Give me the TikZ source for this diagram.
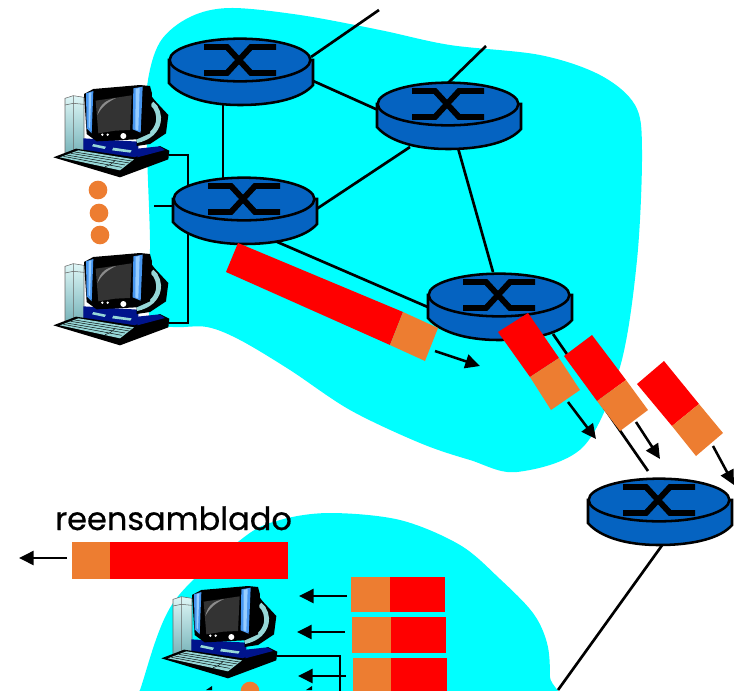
\documentclass[tikz,border=0pt]{standalone}
\usepackage{fontspec}
\setmainfont{Poppins}
\newfontfamily\labfont[FakeBold=0.6]{Poppins}
\usetikzlibrary{arrows.meta,calc,shapes.geometric}
\pgfdeclarelayer{blob}\pgfdeclarelayer{edges}
\pgfsetlayers{blob,edges,main}
\definecolor{cloud}{RGB}{0,255,255}
\definecolor{rtblue}{RGB}{5,99,193}
\definecolor{pkred}{RGB}{255,0,0}
\definecolor{pkor}{RGB}{237,125,49}
\definecolor{navy1}{RGB}{0,20,140}
\definecolor{teal1}{RGB}{150,215,215}
\definecolor{towtop}{RGB}{222,246,246}
\definecolor{towbot}{RGB}{120,180,186}
\definecolor{scr}{RGB}{51,51,51}
\definecolor{barb}{RGB}{70,150,240}
\definecolor{barl}{RGB}{150,205,255}
\tikzset{
 link/.style={line width=2pt,black},
 motion/.style={line width=1.9pt,black,-{Triangle[length=11pt,width=10.5pt]},shorten >=0pt},
 rttop/.style={ellipse,draw=black,line width=1.9pt,fill=rtblue,minimum width=105.5pt,minimum height=32pt,inner sep=0pt},
 rtbody/.style={draw=black,line width=1.9pt,fill=rtblue},
 rtx/.style={line width=4.4pt,black,line join=miter},
 odot/.style={circle,fill=pkor,minimum size=14pt,inner sep=0pt},
 pkr/.style={fill=pkred},
 pko/.style={fill=pkor}
}
\newcommand{\rtr}[3]{%
 \begin{scope}[shift={(#2,#3)}]
 \path[rtbody] (-71,0) -- (-71,23) .. controls (-60,36) and (-35,45) .. (0,45) .. controls (35,45) and (62,38) .. (73,25) -- (73,0) -- cycle;
 \node[rttop] (#1) at (0,0) {};
 \draw[rtx] (-36,-13) -- (-13,-13) -- (11,13) -- (36,13);
 \draw[rtx] (-36,13) -- (-13,13) -- (11,-13) -- (36,-13);
 \end{scope}}
% host: coordinates are in thirds of a pixel, relative to the given origin
\newcommand{\hst}[3]{%
 \begin{scope}[shift={(#2,#3)},x=0.25pt,y=-0.25pt]
 \shade[top color=towtop,bottom color=towbot,draw=black!60,line width=.4pt] (75,85) -- (100,77) -- (132,82) -- (132,250) -- (75,252) -- cycle;
 \draw[black!60,line width=.4pt] (100,78) -- (100,250) (75,105) -- (100,100) -- (132,103);
 \fill[navy1] (130,205) -- (295,215) -- (295,265) -- (130,250) -- cycle;
 \fill[black] (320,60) -- (345,92) -- (385,135) -- (378,190) -- (330,222) -- (290,228) -- (290,90) -- cycle;
 \draw[teal1,line width=3.6pt] (335,100) .. controls (368,125) and (368,195) .. (290,212);
 \fill[black] (132,72) -- (160,57) -- (300,45) -- (330,48) -- (336,70) -- (330,190) -- (290,208) -- (170,214) -- (140,192) -- cycle;
 \fill[barb] (138,70) -- (160,63) -- (155,190) -- (140,175) -- cycle;
 \fill[barl] (146,70) -- (154,67) -- (150,176) -- (146,170) -- cycle;
 \fill[barb] (280,55) -- (308,50) -- (302,188) -- (278,178) -- cycle;
 \fill[barl] (287,56) -- (299,54) -- (295,182) -- (286,178) -- cycle;
 \fill[scr] (167,92) -- (275,76) -- (270,180) -- (225,182) -- (175,190) -- cycle;
 \fill[black!45] (172,135) .. controls (180,100) and (200,90) .. (228,84) .. controls (205,95) and (185,110) .. (172,135) -- cycle;
 \fill[white] (187,194) circle[radius=4] (203,194) circle[radius=4] (250,198) circle[radius=9];
 \fill[teal1] (160,222) -- (198,230) -- (194,237) -- (156,229) -- cycle;
 \fill[teal1] (220,233) -- (275,241) -- (271,248) -- (216,241) -- cycle;
 \fill[black] (40,262) -- (108,236) -- (285,262) -- (360,228) -- (388,242) -- (385,268) -- (240,322) -- cycle;
 \fill[navy1] (292,236) -- (358,229) -- (375,240) -- (292,262) -- cycle;
 \fill[teal1] (60,262) -- (115,241) -- (282,268) -- (240,301) -- cycle;
 \draw[black,line width=.35pt] (80,255) -- (255,285) (92,250) -- (268,279) (104,246) -- (275,273) (70,259) -- (245,292) (195,290) .. controls (210,285) and (218,280) .. (225,272);
 \coordinate (#1) at (386,255);
 \end{scope}}
\newcommand{\mot}[5]{\coordinate (#1a) at (#2,#3); \coordinate (#1b) at (#4,#5); \draw[motion] (#1a) -- (#1b);}
\begin{document}
\begin{tikzpicture}[x=0.75pt,y=-0.75pt]
\useasboundingbox (0,0) rectangle (740,690);
\begin{pgfonlayer}{blob}
\fill[cloud] plot[smooth cycle,tension=0.55] coordinates {(230,8) (300,15) (380,30) (450,45) (540,55) (600,75) (635,105) (642,150) (637,260) (620,367) (583,447) (517,472) (470,460) (420,443) (350,410) (290,370) (240,340) (207,327) (173,327) (150,320) (150,240) (147,150) (147,87) (160,42) (190,17)};
\fill[cloud] plot[smooth cycle,tension=0.55] coordinates {(330,513) (400,520) (460,545) (500,579) (533,613) (547,643) (550,677) (548,740) (125,740) (140,690) (173,603) (243,538) (280,520)};
\end{pgfonlayer}
% hosts
\hst{h1}{40}{70}
\hst{h2}{40}{238}
\hst{h3}{148}{571}
% routers
\rtr{r1}{240}{60}
\rtr{r2}{448}{104}
\rtr{r3}{244}{199}
\rtr{r4}{499}{295}
\rtr{r5}{659}{500}
% free ends
\coordinate (f1) at (379,10);
\coordinate (f2) at (486,46);
\coordinate (f3) at (154,206);
\coordinate (f4) at (648,471);
\coordinate (f5) at (558,690);
\coordinate (bus) at (188,240);
\coordinate (f6) at (340,692);
\begin{pgfonlayer}{edges}
\draw[link] ([shift={(71,-3)}]r1.center) -- (f1);
\draw[link] ([shift={(71,20)}]r1.center) -- ([shift={(-70,6)}]r2.center);
\draw[link] ([shift={(-17,40)}]r1.center) -- ([shift={(-21,-18)}]r3.center);
\draw[link] ([shift={(-1,-20)}]r2.center) -- (f2);
\draw[link] ([shift={(-38,43)}]r2.center) -- ([shift={(71,11)}]r3.center);
\draw[link] ([shift={(10,44)}]r2.center) -- ([shift={(-6,-23)}]r4.center);
\draw[link] ([shift={(31,42)}]r3.center) -- ([shift={(-69,13)}]r4.center);
\draw[link] ([shift={(54,39)}]r4.center) -- (f4);
\draw[link] ([shift={(4,44)}]r5.center) -- (f5);
\draw[link] (f3) -- ([shift={(-70,7)}]r3.center);
\draw[link] (h1) -| (bus) |- (h2);
\draw[link] (h3) -| (f6);
\end{pgfonlayer}
% dots
\node[odot] (d1) at (98,190) {};
\node[odot] (d2) at (99,213) {};
\node[odot] (d3) at (100,235) {};
\node[odot] (d4) at (250,691) {};
% big packet
\path[pkr] (238,243) -- (403,312) -- (390,345) -- (226,272) -- cycle;
\path[pko] (403,312) -- (438,328) -- (425,361) -- (390,345) -- cycle;
% tilted packets
\path[pkr] (498,332) -- (528,313) -- (559,358) -- (530,377) -- cycle;
\path[pko] (559,358) -- (580,390) -- (551,410) -- (530,377) -- cycle;
\path[pkr] (564,356) -- (592,335) -- (626,380) -- (597,401) -- cycle;
\path[pko] (626,380) -- (648,410) -- (620,431) -- (597,401) -- cycle;
\path[pkr] (637,384) -- (664,361) -- (699,404) -- (672,426) -- cycle;
\path[pko] (699,404) -- (723,433) -- (696,456) -- (672,426) -- cycle;
% motion arrows
\mot{m1}{435}{351}{480}{366}
\mot{m2}{568}{402}{596}{439}
\mot{m3}{636}{422}{660}{459}
\mot{m4}{713}{446}{734}{485}
\mot{m5}{67}{558}{19}{558}
\mot{m6}{347}{596}{299}{596}
\mot{m7}{345}{632}{297}{632}
\mot{m8}{346}{676}{298}{676}
% reassembled
\path[pko] (72,542) rectangle (110,579);
\path[pkr] (110,542) rectangle (288,579);
% received fragments
\path[pko] (351,577) rectangle (390,612);
\path[pkr] (390,577) rectangle (445,612);
\path[pko] (352,617) rectangle (391,653);
\path[pkr] (391,617) rectangle (446,653);
\path[pko] (353,658) rectangle (391,695);
\path[pkr] (391,658) rectangle (447,695);
% arrow tips at the lower edge
\fill[black] (206,690) -- (212,686) -- (212,690) -- cycle;
\fill[black] (306,690) -- (312,686) -- (312,690) -- cycle;
\node[anchor=base west,inner sep=0pt,font=\labfont\fontsize{24}{24}\selectfont] (lab) at (55,530) {reensamblado};
\end{tikzpicture}
\end{document}
